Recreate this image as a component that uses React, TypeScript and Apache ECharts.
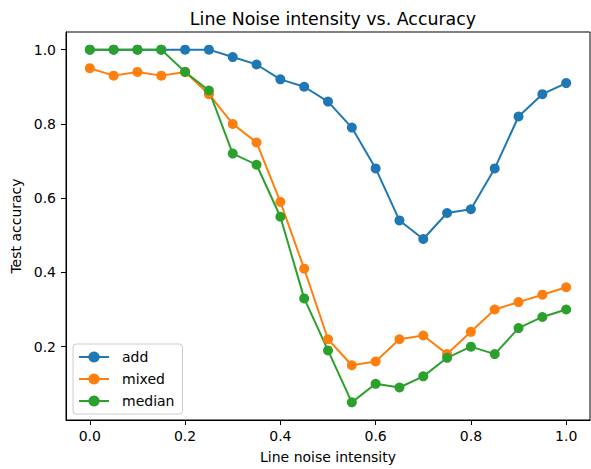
import React, { useEffect, useRef } from "react";
import * as echarts from "echarts";

const noiseLevels = [0, 0.05, 0.1, 0.15, 0.2, 0.25, 0.3, 0.35, 0.4, 0.45, 0.5, 0.55, 0.6, 0.65, 0.7, 0.75, 0.8, 0.85, 0.9, 0.95, 1.0];
const addAcc = [1.0, 1.0, 1.0, 1.0, 1.0, 1.0, 0.98, 0.96, 0.92, 0.9, 0.86, 0.79, 0.68, 0.54, 0.49, 0.56, 0.57, 0.68, 0.82, 0.88, 0.91];
const mixedAcc = [0.95, 0.93, 0.94, 0.93, 0.94, 0.88, 0.8, 0.75, 0.59, 0.41, 0.22, 0.15, 0.16, 0.22, 0.23, 0.18, 0.24, 0.3, 0.32, 0.34, 0.36];
const medianAcc = [1.0, 1.0, 1.0, 1.0, 0.94, 0.89, 0.72, 0.69, 0.55, 0.33, 0.19, 0.05, 0.1, 0.09, 0.12, 0.17, 0.2, 0.18, 0.25, 0.28, 0.3];
const xTicks = [0, 0.2, 0.4, 0.6, 0.8, 1.0];
const yTicks = [0.2, 0.4, 0.6, 0.8, 1.0];
const seriesNames = ["add", "mixed", "median"];
const colors = ["#1f77b4", "#ff7f0e", "#2ca02c"];

const FONT = "DejaVu Sans";

export default function App() {
  const ref = useRef<HTMLDivElement>(null);
  useEffect(() => {
    if (!ref.current) return;
    const chart = echarts.init(ref.current, null, { renderer: "svg" });
    const datasets = [addAcc, mixedAcc, medianAcc];
    chart.setOption({
      animation: false,
      backgroundColor: "#fff",
      title: {
        text: "Line Noise intensity vs. Accuracy",
        left: 328,
        textAlign: "center",
        top: 5,
        textStyle: { fontFamily: FONT, fontSize: 17.4, fontWeight: "normal", color: "#000" },
      },
      legend: {
        orient: "vertical",
        left: 73,
        top: 344,
        padding: [6, 8, 6, 5],
        itemWidth: 30,
        itemHeight: 14,
        itemGap: 8,
        borderColor: "#ccc",
        borderWidth: 1,
        borderRadius: 3,
        backgroundColor: "rgba(255,255,255,0.8)",
        data: seriesNames,
        textStyle: { fontFamily: FONT, fontSize: 14, color: "#000", padding: [0, 0, 0, 8] },
      },
      grid: {
        left: 66,
        right: 1,
        top: 32,
        bottom: 47,
        show: true,
        borderColor: "#000",
        borderWidth: 1,
        backgroundColor: "transparent",
      },
      xAxis: {
        type: "value",
        min: -0.05,
        max: 1.05,
        name: "Line noise intensity",
        nameLocation: "middle",
        nameGap: 30,
        nameTextStyle: { fontFamily: FONT, fontSize: 14, color: "#000" },
        axisLine: { show: true, onZero: false, lineStyle: { color: "#000", width: 1 } },
        axisTick: { show: true, length: 5, customValues: xTicks, lineStyle: { color: "#000" } },
        axisLabel: {
          customValues: xTicks,
          margin: 9,
          fontFamily: FONT,
          fontSize: 14,
          color: "#000",
          formatter: (v: number) => v.toFixed(1),
        },
        splitLine: { show: false },
      },
      yAxis: {
        type: "value",
        min: 0.0025,
        max: 1.0475,
        name: "Test accuracy",
        nameLocation: "middle",
        nameGap: 42,
        nameTextStyle: { fontFamily: FONT, fontSize: 14, color: "#000" },
        axisLine: { show: true, onZero: false, lineStyle: { color: "#000", width: 1 } },
        axisTick: { show: true, length: 5, customValues: yTicks, lineStyle: { color: "#000" } },
        axisLabel: {
          customValues: yTicks,
          margin: 10,
          fontFamily: FONT,
          fontSize: 14,
          color: "#000",
          formatter: (v: number) => v.toFixed(1),
        },
        splitLine: { show: false },
      },
      series: seriesNames.map((name, i) => ({
        name,
        type: "line",
        data: noiseLevels.map((x, j) => [x, datasets[i][j]]),
        symbol: "circle",
        symbolSize: 10,
        showSymbol: true,
        color: colors[i],
        lineStyle: { color: colors[i], width: 2 },
        itemStyle: { color: colors[i] },
      })),
    });
    return () => chart.dispose();
  }, []);
  return <div ref={ref} style={{ width: 591, height: 469, position: "absolute", left: 0, top: 0 }} />;
}
